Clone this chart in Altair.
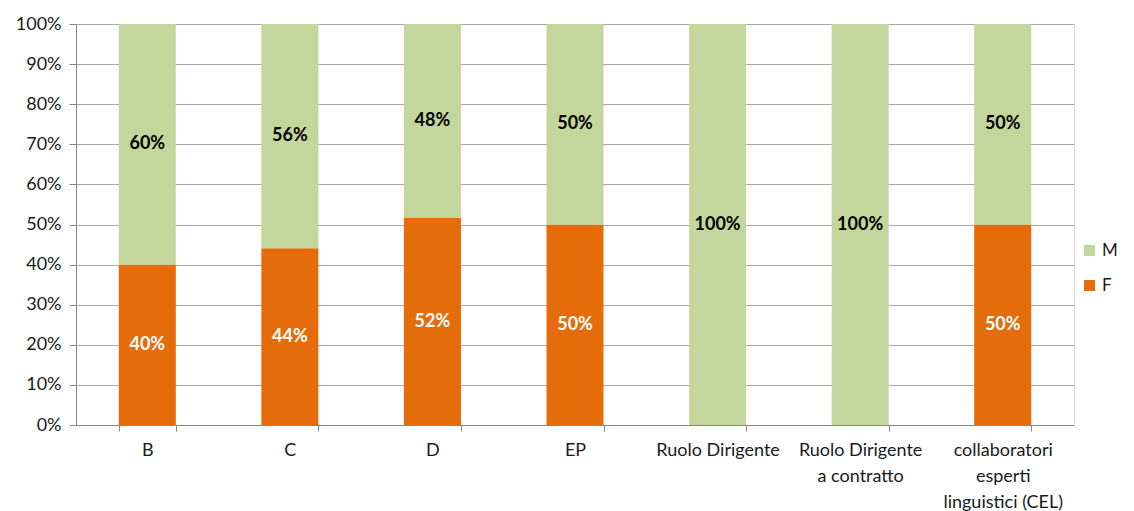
import altair as alt
import pandas as pd

categories = ["B", "C", "D", "EP", "Ruolo Dirigente",
              "Ruolo Dirigente a contratto",
              "collaboratori esperti linguistici (CEL)"]
label_lines = {
    "Ruolo Dirigente a contratto": ["Ruolo Dirigente", "a contratto"],
    "collaboratori esperti linguistici (CEL)": ["collaboratori", "esperti", "linguistici (CEL)"],
}
f_values = [40.0, 44.1, 51.6, 50.0, 0.0, 0.0, 50.0]
m_values = [60.0, 55.9, 48.4, 50.0, 100.0, 100.0, 50.0]
series = ["M", "F"]
colors = ["#C3D69B", "#E46C0A"]

rows = []
for c, f, m in zip(categories, f_values, m_values):
    rows.append({"cat": c, "gender": "F", "value": f, "order": 0})
    rows.append({"cat": c, "gender": "M", "value": m, "order": 1})
df = pd.DataFrame(rows)

# multi-line label expression
expr_parts = []
for k, lines in label_lines.items():
    arr = "[" + ",".join("'" + l.replace("'", "\\'") + "'" for l in lines) + "]"
    expr_parts.append(f"datum.label == '{k}' ? {arr}")
label_expr = " : ".join(expr_parts) + " : datum.label"

FONT = "Lato"
FS = 18

base = alt.Chart(df).transform_stack(
    stack="value", groupby=["cat"], as_=["y0", "y1"],
    sort=[alt.SortField("order", order="ascending")]
).transform_calculate(
    mid="(datum.y0 + datum.y1) / 2",
    lbl="format(datum.value, '.0f') + '%'"
)

x_enc = alt.X(
    "cat:N", sort=categories, title=None,
    scale=alt.Scale(paddingInner=0.6, paddingOuter=0.3),
    axis=alt.Axis(labelAngle=0, labelExpr=label_expr, tickBand="extent",
                  tickSize=6, labelPadding=10, labelLineHeight=26,
                  labelFontSize=FS, labelFont=FONT, labelColor="#1a1a1a",
                  domainColor="#868686", tickColor="#868686", grid=False)
)

bars = base.mark_bar().encode(
    x=x_enc,
    y=alt.Y("y0:Q", title=None, scale=alt.Scale(domain=[0, 100], nice=False),
            axis=alt.Axis(values=list(range(0, 101, 10)),
                          labelExpr="datum.value + '%'",
                          tickSize=7, labelPadding=8, labelFontSize=FS,
                          labelFont=FONT, labelColor="#1a1a1a",
                          domainColor="#868686", tickColor="#868686",
                          gridColor="#A6A6A6", grid=True)),
    y2="y1:Q",
    color=alt.Color("gender:N",
                    scale=alt.Scale(domain=series, range=colors),
                    legend=alt.Legend(title=None, orient="none",
                                      legendX=1005, legendY=218, padding=0,
                                      symbolType="square", symbolSize=121,
                                      symbolStrokeWidth=0,
                                      labelFontSize=17, labelFont=FONT,
                                      labelColor="#1a1a1a",
                                      rowPadding=17, labelOffset=4)),
)

text_f = base.mark_text(fontWeight="bold", fontSize=FS, font=FONT, color="white").encode(
    x=alt.X("cat:N", sort=categories),
    y=alt.Y("mid:Q"),
    text="lbl:N",
).transform_filter("datum.gender == 'F' && datum.value > 0")

text_m = base.mark_text(fontWeight="bold", fontSize=FS, font=FONT, color="black").encode(
    x=alt.X("cat:N", sort=categories),
    y=alt.Y("mid:Q"),
    text="lbl:N",
).transform_filter("datum.gender == 'M' && datum.value > 0")

chart = alt.layer(bars, text_f, text_m).properties(
    width=998, height=401,
    autosize=alt.AutoSizeParams(type="none"),
    padding={"left": 68, "top": 16, "right": 52, "bottom": 86},
).configure_view(
    stroke="#868686", strokeWidth=1
).configure(background="white")

chart.save("out.html", embed_options={"renderer": "svg", "actions": False})
